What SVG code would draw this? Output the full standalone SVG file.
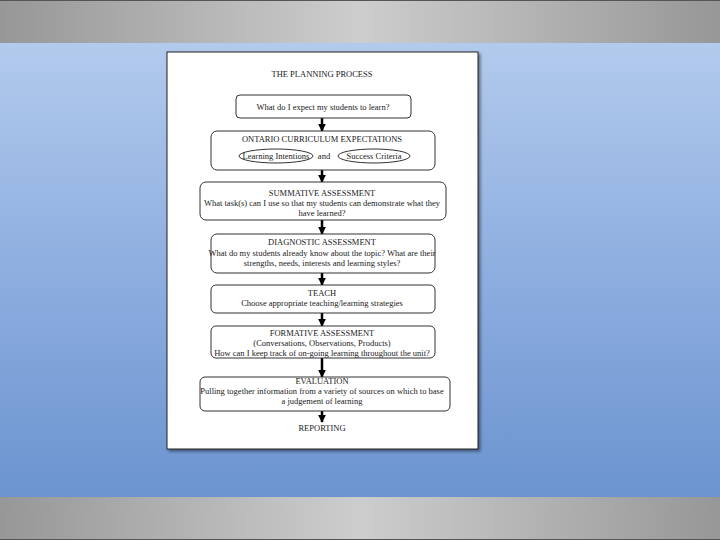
<svg xmlns="http://www.w3.org/2000/svg" width="720" height="540" viewBox="0 0 720 540">
<defs>
<linearGradient id="bg" x1="0" y1="0" x2="0" y2="1">
<stop offset="0" stop-color="#b9d0ef"/>
<stop offset="0.5" stop-color="#8eaee0"/>
<stop offset="1" stop-color="#658fcc"/>
</linearGradient>
<linearGradient id="band" x1="0" y1="0" x2="1" y2="0">
<stop offset="0" stop-color="#979797"/>
<stop offset="0.5" stop-color="#cdcdcd"/>
<stop offset="1" stop-color="#979797"/>
</linearGradient>
<marker id="ah" viewBox="0 0 10 10" refX="9" refY="5" markerWidth="3.2" markerHeight="3.2" orient="auto" markerUnits="strokeWidth">
<path d="M0,0 L10,5 L0,10 z" fill="#000"/>
</marker>
<filter id="sh" x="-5%" y="-5%" width="115%" height="115%">
<feDropShadow dx="2" dy="2" stdDeviation="1.5" flood-color="#000" flood-opacity="0.45"/>
</filter>
</defs>
<style>
text{font-family:"Liberation Serif","Times New Roman",serif;font-size:8.5px;fill:#1a1a1a;text-anchor:middle}
.box{fill:#fff;stroke:#333;stroke-width:1}
.ell{fill:none;stroke:#333;stroke-width:1}
.con{stroke:#000;stroke-width:2.5;fill:none;marker-end:url(#ah)}
</style>
<rect x="0" y="0" width="720" height="540" fill="url(#bg)"/>
<rect x="0" y="0" width="720" height="43" fill="url(#band)"/>
<rect x="0" y="497" width="720" height="43" fill="url(#band)"/>
<line x1="0" y1="0.5" x2="720" y2="0.5" stroke="#555"/>
<line x1="0" y1="539.5" x2="720" y2="539.5" stroke="#555"/>
<rect x="167" y="52" width="311" height="397" fill="#fff" stroke="#222" stroke-width="1" filter="url(#sh)"/>
<text x="322" y="77" font-size="9">THE PLANNING PROCESS</text>
<g id="connectors">
<line class="con" x1="322" y1="118" x2="322" y2="131"/>
<line class="con" x1="322" y1="170" x2="322" y2="182"/>
<line class="con" x1="322" y1="220" x2="322" y2="234"/>
<line class="con" x1="322" y1="273" x2="322" y2="285"/>
<line class="con" x1="322" y1="313" x2="322" y2="326"/>
<line class="con" x1="322" y1="358" x2="322" y2="377"/>
<line class="con" x1="322" y1="411" x2="322" y2="422"/>
</g>
<g id="n1">
<rect class="box" x="236" y="95" width="175" height="23" rx="4"/>
<text x="323" y="110">What do I expect my students to learn?</text>
</g>
<g id="n2">
<rect class="box" x="211" y="131" width="224" height="39" rx="6"/>
<text x="322" y="142">ONTARIO CURRICULUM EXPECTATIONS</text>
<ellipse class="ell" cx="276" cy="156" rx="37" ry="7"/>
<text x="276" y="159">Learning Intentions</text>
<text x="324" y="159">and</text>
<ellipse class="ell" cx="374" cy="156" rx="36" ry="7"/>
<text x="374" y="159">Success Criteria</text>
</g>
<g id="n3">
<rect class="box" x="200" y="182" width="246" height="38" rx="6"/>
<text x="322" y="196">SUMMATIVE ASSESSMENT</text>
<text x="322" y="206">What task(s) can I use so that my students can demonstrate what they</text>
<text x="322" y="216">have learned?</text>
</g>
<g id="n4">
<rect class="box" x="211" y="234" width="224" height="39" rx="6"/>
<text x="322" y="245">DIAGNOSTIC ASSESSMENT</text>
<text x="322" y="256">What do my students already know about the topic? What are their</text>
<text x="322" y="266">strengths, needs, interests and learning styles?</text>
</g>
<g id="n5">
<rect class="box" x="211" y="285" width="224" height="28" rx="5"/>
<text x="322" y="296">TEACH</text>
<text x="322" y="306">Choose appropriate teaching/learning strategies</text>
</g>
<g id="n6">
<rect class="box" x="211" y="326" width="224" height="32" rx="5"/>
<text x="322" y="336">FORMATIVE ASSESSMENT</text>
<text x="322" y="346">(Conversations, Observations, Products)</text>
<text x="322" y="356">How can I keep track of on-going learning throughout the unit?</text>
</g>
<g id="n7">
<rect class="box" x="200" y="377" width="250" height="34" rx="5"/>
<text x="322" y="384">EVALUATION</text>
<text x="322" y="394">Pulling together information from a variety of sources on which to base</text>
<text x="322" y="404">a judgement of learning</text>
</g>
<g id="n8">
<text x="322" y="431">REPORTING</text>
</g>
</svg>
